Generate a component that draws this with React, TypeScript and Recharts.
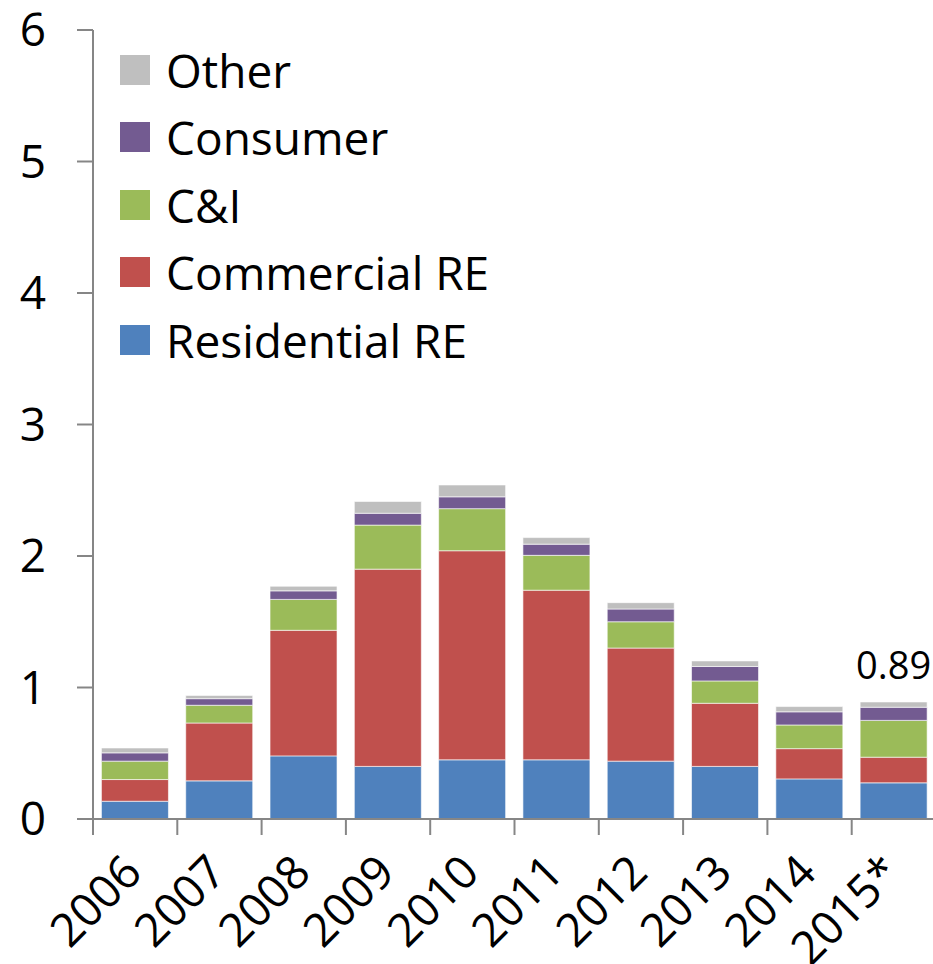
import { BarChart, Bar, XAxis, YAxis, Legend, LabelList } from "recharts";

const years = ["2006", "2007", "2008", "2009", "2010", "2011", "2012", "2013", "2014", "2015*"];
const residentialRE = [0.135, 0.29, 0.48, 0.4, 0.45, 0.45, 0.44, 0.4, 0.305, 0.275];
const commercialRE = [0.165, 0.44, 0.955, 1.5, 1.59, 1.29, 0.86, 0.48, 0.23, 0.195];
const cAndI = [0.14, 0.135, 0.235, 0.335, 0.32, 0.265, 0.2, 0.17, 0.18, 0.28];
const consumer = [0.063, 0.05, 0.065, 0.09, 0.09, 0.085, 0.097, 0.11, 0.1, 0.1];
const other = [0.037, 0.025, 0.035, 0.09, 0.09, 0.05, 0.048, 0.042, 0.04, 0.04];
const yTicks = [0, 1, 2, 3, 4, 5, 6];
const labelledYear = "2015*";

const FONT = "'Open Sans', 'Noto Sans', sans-serif";
const AXIS = "#868686";

// stacking order, bottom first
const series = [
  { key: "residential", name: "Residential RE", color: "#4F81BD" },
  { key: "commercial", name: "Commercial RE", color: "#C0504D" },
  { key: "cni", name: "C&I", color: "#9BBB59" },
  { key: "consumer", name: "Consumer", color: "#735B91" },
  { key: "other", name: "Other", color: "#BFBFBF" },
];

const data = years.map((year, i) => {
  const total = residentialRE[i] + commercialRE[i] + cAndI[i] + consumer[i] + other[i];
  return {
    year,
    residential: residentialRE[i],
    commercial: commercialRE[i],
    cni: cAndI[i],
    consumer: consumer[i],
    other: other[i],
    label: year === labelledYear ? total.toFixed(2) : "",
  };
});

function XTick(props: any) {
  const { x, y, payload } = props;
  const half = payload?.offset ?? 42;
  const tx = x + 9;
  const ty = y + 40;
  return (
    <g>
      <line x1={x - half} y1={y - 16} x2={x - half} y2={y} stroke={AXIS} strokeWidth={2} />
      <text
        x={tx}
        y={ty}
        textAnchor="end"
        transform={`rotate(-45, ${tx}, ${ty})`}
        fontSize={46}
        fontFamily={FONT}
        fill="#000"
      >
        {payload.value}
      </text>
    </g>
  );
}

function TotalLabel(props: any) {
  const { x, y, width, value } = props;
  if (!value) return null;
  return (
    <text x={x + width / 2} y={y - 23} textAnchor="middle" fontSize={38} fontFamily={FONT} fill="#000">
      {value}
    </text>
  );
}

function LegendBox() {
  return (
    <div style={{ fontFamily: FONT, fontSize: 46, color: "#000" }}>
      {[...series].reverse().map((s) => (
        <div key={s.key} style={{ display: "flex", alignItems: "center", height: 67.5 }}>
          <span style={{ width: 30, height: 30, background: s.color, marginRight: 16, flexShrink: 0 }} />
          <span style={{ lineHeight: 1, whiteSpace: "nowrap" }}>{s.name}</span>
        </div>
      ))}
    </div>
  );
}

export default function App() {
  return (
    <div style={{ position: "absolute", left: 0, top: 0, width: 933, height: 964, overflow: "hidden", background: "#fff" }}>
      <BarChart
        width={936}
        height={964}
        data={data}
        margin={{ top: 30, right: 0, bottom: 0, left: 0 }}
        barCategoryGap="10%"
      >
        <XAxis
          dataKey="year"
          interval={0}
          height={145}
          tickSize={16}
          tickMargin={0}
          tickLine={false}
          axisLine={{ stroke: AXIS, strokeWidth: 2 }}
          tick={<XTick />}
        />
        <YAxis
          domain={[0, 6]}
          ticks={yTicks}
          width={93}
          tickSize={16}
          tickMargin={31}
          axisLine={{ stroke: AXIS, strokeWidth: 2 }}
          tickLine={{ stroke: AXIS, strokeWidth: 2 }}
          tick={{ fontSize: 46, fill: "#000", fontFamily: FONT }}
        />
        <Legend
          layout="vertical"
          align="center"
          verticalAlign="middle"
          wrapperStyle={{ left: 120, top: 36, width: 420 }}
          content={<LegendBox />}
        />
        {series.map((s) => (
          <Bar
            key={s.key}
            dataKey={s.key}
            name={s.name}
            stackId="a"
            fill={s.color}
            stroke="#ffffff"
            strokeOpacity={0.6}
            strokeWidth={1}
            isAnimationActive={false}
          >
            {s.key === "other" && <LabelList dataKey="label" content={<TotalLabel />} />}
          </Bar>
        ))}
      </BarChart>
    </div>
  );
}
